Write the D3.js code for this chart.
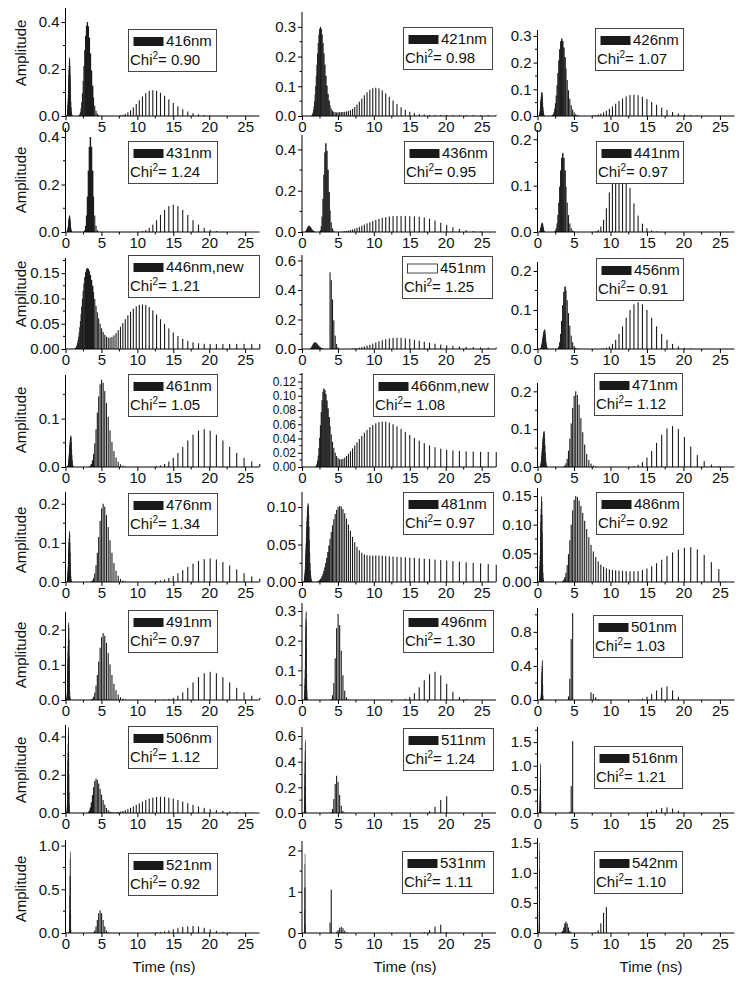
<!DOCTYPE html>
<html>
<head>
<meta charset="utf-8">
<script src="https://cdn.jsdelivr.net/npm/d3@7"></script>
<style>
body{margin:0;background:#fff}
text{font-family:"Liberation Sans",Arial,sans-serif;fill:#111}
</style>
</head>
<body>
<svg id="chart" width="741" height="981"></svg>
<script>
// one entry per panel, row by row
const wavelengths=["416nm","421nm","426nm","431nm","436nm","441nm","446nm,new","451nm","456nm",
  "461nm","466nm,new","471nm","476nm","481nm","486nm","491nm","496nm","501nm",
  "506nm","511nm","516nm","521nm","531nm","542nm"]
const chiSquared=["0.90","0.98","1.07","1.24","0.95","0.97","1.21","1.25","0.91",
  "1.05","1.08","1.12","1.34","0.97","0.92","0.97","1.30","1.03",
  "1.12","1.24","1.21","0.92","1.11","1.10"]
const openSwatch=["451nm"]
const yTickLabels=[
  ["0.0","0.2","0.4"],["0.0","0.1","0.2","0.3"],["0.0","0.1","0.2","0.3"],
  ["0.0","0.2","0.4"],["0.0","0.2","0.4"],["0.0","0.1","0.2"],
  ["0.00","0.05","0.10","0.15"],["0.0","0.2","0.4","0.6"],["0.0","0.1","0.2"],
  ["0.0","0.1"],["0.00","0.02","0.04","0.06","0.08","0.10","0.12"],["0.0","0.1","0.2"],
  ["0.0","0.1","0.2"],["0.00","0.05","0.10"],["0.00","0.05","0.10","0.15"],
  ["0.0","0.1","0.2"],["0.0","0.1","0.2","0.3"],["0.0","0.4","0.8"],
  ["0.0","0.2","0.4"],["0.0","0.2","0.4","0.6"],["0.0","0.5","1.0","1.5"],
  ["0.0","0.5","1.0"],["0","1","2"],["0.0","0.5","1.0","1.5"]
]
const yMax=[0.46,0.35,0.322,0.438,0.47,0.22,0.18,0.637,0.223,0.19,0.132,0.222,
  0.23,0.12,0.164,0.25,0.327,1.08,0.46,0.67,1.82,1.064,2.23,1.58]
const xTicks=[0,5,10,15,20,25]
// lifetime peaks: [centre ns, amplitude, log-width left, log-width right]
const peaks=[
  [[0.6,0.25,0.3,0.15],[3.05,0.40,0.15,0.14],[12.2,0.11,0.17,0.18]],
  [[2.55,0.30,0.2,0.2],[5.5,0.012,0.2,0.2],[10.4,0.095,0.21,0.19],[22,0.003,0.3,0.5]],
  [[0.64,0.09,0.3,0.15],[3.24,0.29,0.155,0.17],[13.1,0.08,0.2,0.185]],
  [[0.6,0.07,0.3,0.15],[3.5,0.40,0.09,0.09],[15.3,0.115,0.13,0.13]],
  [[1.0,0.03,0.3,0.25],[3.3,0.43,0.09,0.1],[11.5,0.062,0.28,0.2],[17,0.06,0.2,0.15]],
  [[0.7,0.02,0.3,0.15],[3.5,0.17,0.12,0.12],[11,0.165,0.11,0.12]],
  [[3.0,0.16,0.26,0.3],[10.8,0.088,0.28,0.23],[25,0.01,0.3,1.0]],
  [[1.85,0.045,0.2,0.2],[3.83,0.52,0.01,0.09],[12.95,0.075,0.245,0.25],[24,0.008,0.3,0.5]],
  [[1.0,0.05,0.3,0.12],[3.8,0.16,0.1,0.12],[13.8,0.12,0.14,0.14]],
  [[0.8,0.065,0.3,0.12],[5.0,0.18,0.13,0.16],[19.5,0.078,0.15,0.15]],
  [[3.0,0.11,0.15,0.22],[11,0.062,0.35,0.3],[27,0.02,0.4,0.4]],
  [[0.95,0.095,0.3,0.125],[5.2,0.2,0.12,0.135],[18.6,0.108,0.123,0.107]],
  [[0.6,0.13,0.3,0.12],[5.2,0.20,0.12,0.15],[20,0.06,0.18,0.15]],
  [[0.9,0.105,0.35,0.15],[5.2,0.10,0.28,0.25],[11,0.034,0.3,1.0]],
  [[0.6,0.15,0.3,0.12],[5.2,0.15,0.14,0.25],[11,0.018,0.25,0.25],[21,0.06,0.2,0.12]],
  [[0.5,0.22,0.3,0.12],[5.2,0.19,0.12,0.15],[20,0.08,0.13,0.13]],
  [[0.6,0.30,0.2,0.08],[5.0,0.29,0.07,0.08],[18.5,0.095,0.1,0.08]],
  [[0.68,0.47,0.15,0.06],[4.75,1.02,0.05,0.01],[7.3,0.09,0.01,0.06],[18,0.16,0.1,0.05]],
  [[0.45,0.45,0.25,0.1],[4.3,0.18,0.11,0.15],[13,0.085,0.25,0.25]],
  [[0.5,0.57,0.15,0.06],[4.8,0.29,0.06,0.07],[19.8,0.13,0.06,0.01]],
  [[0.45,1.05,0.15,0.05],[4.75,1.52,0.03,0.01],[18,0.12,0.08,0.06]],
  [[0.7,0.93,0.1,0.05],[4.9,0.26,0.08,0.08],[17.5,0.08,0.15,0.11]],
  [[0.46,1.92,0.08,0.04],[4.1,1.05,0.025,0.01],[5.5,0.15,0.07,0.06],[19.5,0.2,0.06,0.02]],
  [[0.3,1.5,0.1,0.05],[3.9,0.19,0.07,0.07],[9.4,0.43,0.06,0.005]]
]
// last lifetime with a non-zero amplitude
const cutoff=[27.5,27.5,27.5,27.5,27.5,27.5,27.5,27.5,27.5,27.5,27.5,27.5,
  27.5,27.5,25.3,27.5,27.5,19.5,27.5,20.6,20.6,27.5,20.2,9.5]

// layout
const colX=[65.5,302,537.5], colW=[194,194,197]
const rowBase=[116,232,349,467,582,700,813,933]
const panelH=[108,104,86,104,97,102,91,94,87,92,94,84,90,90,94,88,97,92,88,86,86,93,92,95]
const legendPos=[[128,29,88],[403,27,89],[595,28,88],[128,141,89],[404,141,89],[596,141,87],
  [128,255,131],[402,256,90],[596,258,87],[128,374,89],[373,374,121],[594,373,88],
  [128,493,89],[403,492,90],[596,492,87],[128,610,89],[403,610,90],[593,615,89],
  [128,726,89],[403,728,90],[594,746,88],[128,853,89],[402,851,91],[594,851,88]]
const ampLabelY=[53,180,294,420,540,655,770,889]
const timeLabelX=[164,405,651]

// log-spaced lifetime grid of the analysis
const ratio=1.043
const grid=d3.range(0,200).map(i=>0.1*Math.pow(ratio,i)).filter(t=>t<=27.2)
const snap=(c)=>grid[Math.round(Math.log(c/0.1)/Math.log(ratio))]

const svg=d3.select("#chart")

wavelengths.forEach((name,p)=>{
  const row=Math.floor(p/3), col=p%3
  const base=rowBase[row], h=panelH[p]
  const x=d3.scaleLinear().domain([0,27]).range([colX[col],colX[col]+colW[col]])
  const y=d3.scaleLinear().domain([0,yMax[p]]).range([base,base-h])
  const g=svg.append("g")

  const comps=peaks[p].map(k=>({c:snap(k[0]),a:k[1],wl:k[2],wr:k[3]}))
  const bars=grid.map((t,i)=>{
    let v=0
    if(t<=cutoff[p]){
      comps.forEach(k=>{
        const d=Math.log(t/k.c)
        const w=d<0?k.wl:k.wr
        v+=k.a*Math.exp(-d*d/(2*w*w))
      })
    }
    const dx=x(grid[i+1]||t*ratio)-x(t)
    return {t:t,v:v,dx:dx}
  }).filter(b=>b.v>yMax[p]*0.004)

  g.selectAll("rect.bar")
    .data(bars)
    .enter()
    .append("rect")
    .attr("class","bar")
    .attr("x",b=>x(b.t)-0.5)
    .attr("width",b=>b.dx<1.2?b.dx+0.4:1.1)
    .attr("y",b=>y(b.v))
    .attr("height",b=>base-y(b.v))
    .attr("fill","#1c1c1c")

  // x axis
  const xa=g.append("g").attr("transform",`translate(0,${base})`)
    .call(d3.axisBottom(x).tickValues(xTicks).tickSize(4).tickPadding(1).tickFormat(d3.format("d")))
  xa.select(".domain").attr("d",`M${x(0)},0H${x(27)}`)
  xa.selectAll(".tick text").attr("font-size",15).attr("dy","0.71em").attr("font-family",null)
  xa.selectAll("line.minor").data([2.5,7.5,12.5,17.5,22.5]).enter().append("line").attr("class","minor")
    .attr("x1",d=>x(d)).attr("x2",d=>x(d)).attr("y1",0).attr("y2",2.5).attr("stroke","#000")

  // y axis
  const yVals=yTickLabels[p].map(Number)
  const tickGap=y(yVals[0])-y(yVals[1])
  const ya=g.append("g").attr("transform",`translate(${x(0)},0)`)
    .call(d3.axisLeft(y).tickValues(yVals).tickSize(4).tickPadding(2).tickFormat((d,i)=>yTickLabels[p][i]))
  ya.select(".domain").attr("d",`M0,${base}V${base-h}`)
  ya.selectAll(".tick text").attr("font-size",tickGap<17?12:15).attr("font-family",null)
  const step=yVals[1]-yVals[0]
  const minors=yVals.map(v=>v+step/2).filter(v=>v<yMax[p])
  ya.selectAll("line.minor").data(minors).enter().append("line").attr("class","minor")
    .attr("x1",0).attr("x2",-2.5).attr("y1",d=>y(d)).attr("y2",d=>y(d)).attr("stroke","#000")

  // legend
  const lp=legendPos[p]
  const lg=g.append("g").attr("transform",`translate(${lp[0]},${lp[1]})`)
  lg.append("rect").attr("x",0.5).attr("y",0.5).attr("width",lp[2]).attr("height",42)
    .attr("fill","#fff").attr("stroke","#444")
  const open=openSwatch.includes(name)
  lg.append("rect").attr("x",5.5).attr("y",8).attr("width",30).attr("height",9)
    .attr("fill",open?"#fff":"#1a1a1a").attr("stroke","#1a1a1a").attr("stroke-width",open?0.8:0)
  lg.append("text").attr("x",38).attr("y",17).attr("font-size",15).text(name)
  const ct=lg.append("text").attr("x",2).attr("y",35.5).attr("font-size",15)
  ct.append("tspan").text("Chi")
  ct.append("tspan").attr("font-size",10).attr("dy",-6).text("2")
  ct.append("tspan").attr("dy",6).text("= "+chiSquared[p])

  if(col===0){
    svg.append("text").attr("transform",`translate(21,${ampLabelY[row]}) rotate(-90)`)
      .attr("text-anchor","middle").attr("dy","0.35em").attr("font-size",15).text("Amplitude")
  }
  if(row===7){
    svg.append("text").attr("x",timeLabelX[col]).attr("y",972)
      .attr("text-anchor","middle").attr("font-size",15).text("Time (ns)")
  }
})
</script>
</body>
</html>
